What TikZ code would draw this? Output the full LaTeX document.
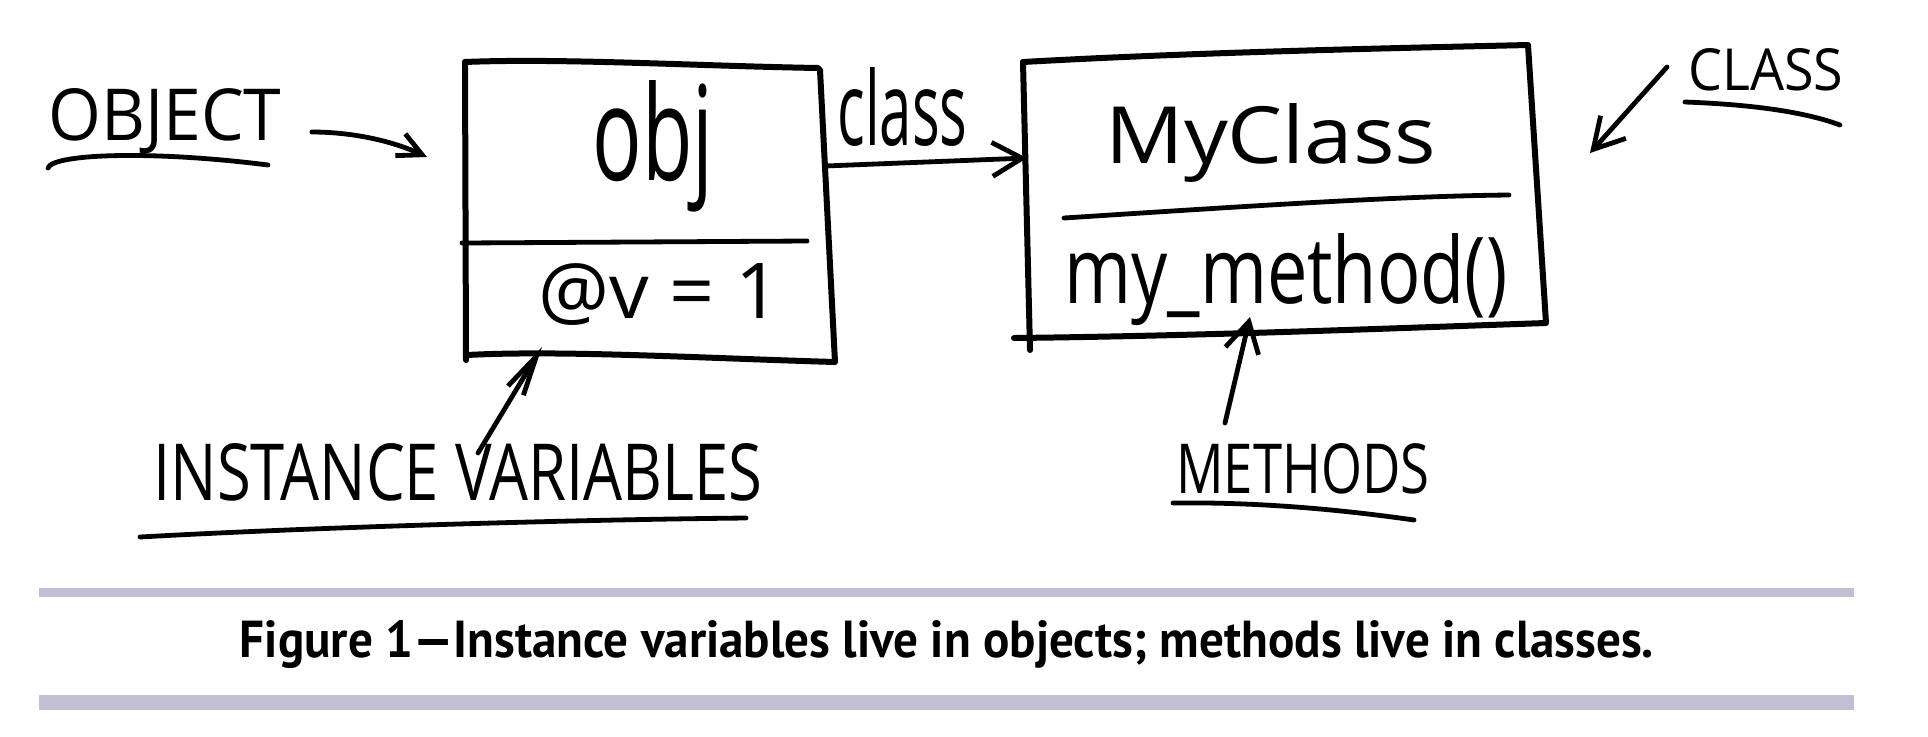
\documentclass[tikz,border=0pt]{standalone}
\usepackage{fontspec}
\usepackage{graphicx}
\usetikzlibrary{arrows.meta}
\newfontfamily\handfont{Open Sans}
\newfontfamily\capfont{PT Sans}
\definecolor{barcol}{RGB}{192,191,211}
\begin{document}
\begin{tikzpicture}[x=0.5pt,y=-0.5pt, line cap=round, line join=round,
  boxline/.style={line width=3pt},
  sketch/.style={line width=2.4pt},
  lbl/.style={inner sep=0pt, anchor=base west, font=\handfont},
  headA/.style={-{Straight Barb[length=12pt,width=12pt]}},
  headB/.style={-{Straight Barb[length=15pt,width=17pt]}},
  headN/.style={-{Straight Barb[length=20pt,width=9pt]}}]
\useasboundingbox (0,0) rectangle (1928,736);

% ---------- object box ----------
\coordinate (oTL) at (465,62);
\coordinate (oTR) at (820,70);
\coordinate (oBR) at (835,362);
\coordinate (oBL) at (467,355);
\draw[boxline] (oTL) .. controls (560,58) and (700,66) .. (818,68) -- (oTR)
  -- (oBR) .. controls (700,358) and (560,350) .. (oBL);
\draw[boxline] (466,360) -- (oTL);
\coordinate (oD1) at (462,243);
\coordinate (oD2) at (807,241);
\draw[sketch] (oD1) -- (oD2);
\node[lbl] (obj) at (592,180) {\resizebox{60.5pt}{50pt}{obj}};
\node[lbl] (ivar) at (538,318) {\resizebox{121pt}{27.5pt}{@v = 1}};

% ---------- class box ----------
\coordinate (cTL) at (1023,62);
\coordinate (cTR) at (1528,45);
\coordinate (cBR) at (1546,323);
\coordinate (cBL) at (1030,350);
\draw[boxline] (cTL) .. controls (1200,52) and (1400,48) .. (cTR)
  -- (cBR) .. controls (1400,328) and (1200,336) .. (1014,338);
\draw[boxline] (cTL) -- (cBL);
\coordinate (cD1) at (1064,218);
\coordinate (cD2) at (1509,195);
\draw[sketch] (cD1) .. controls (1250,206) and (1400,196) .. (cD2);
\node[lbl] (myclass) at (1105,163) {\resizebox{165.5pt}{30pt}{MyClass}};
\node[lbl] (meth) at (1064,303) {\resizebox{221.5pt}{35pt}{my\_method()}};

% ---------- class link ----------
\coordinate (l1) at (825,166);
\coordinate (l2) at (1027,158);
\draw[sketch,headB] (l1) -- (l2);
\node[lbl] (classlbl) at (837,145) {\resizebox{65pt}{39pt}{class}};

% ---------- annotation labels ----------
\node[lbl] (OBJ) at (48,140) {\resizebox{116.5pt}{26pt}{OBJECT}};
\node[lbl] (IV) at (153,500) {\resizebox{304.5pt}{28.5pt}{INSTANCE VARIABLES}};
\node[lbl] (METH) at (1176,493) {\resizebox{126.5pt}{25pt}{METHODS}};
\node[lbl] (CLS) at (1688,90) {\resizebox{77.5pt}{21pt}{CLASS}};

% underlines
\draw[sketch] (48,168) .. controls (52,154) and (150,150) .. (268,165);
\draw[sketch] (140,537) .. controls (300,528) and (550,520) .. (746,518);
\draw[sketch] (1173,503) .. controls (1250,502) and (1330,508) .. (1414,520);
\draw[sketch] (1685,102) .. controls (1740,104) and (1800,110) .. (1840,125);

% annotation arrows
\coordinate (a1s) at (312,132);
\coordinate (a1e) at (427,157);
\draw[sketch,headA] (a1s) .. controls (350,132) and (390,140) .. (a1e);
\coordinate (a2s) at (478,453);
\coordinate (a2e) at (542,347);
\draw[sketch,headN] (a2s) -- (a2e);
\coordinate (a3s) at (1225,423);
\coordinate (a3e) at (1250,317);
\draw[sketch,headB] (a3s) -- (a3e);
\coordinate (a4s) at (1667,67);
\coordinate (a4e) at (1590,153);
\draw[sketch,headB] (a4s) -- (a4e);

% ---------- caption ----------
\fill[barcol] (39,588) rectangle (1854,597);
\node[inner sep=0pt, anchor=base] (cap) at (947,657)
  {\resizebox{707pt}{18.5pt}{\capfont\bfseries Figure 1—Instance variables live in objects; methods live in classes.}};
\fill[barcol] (39,695) rectangle (1854,710);
\end{tikzpicture}
\end{document}
